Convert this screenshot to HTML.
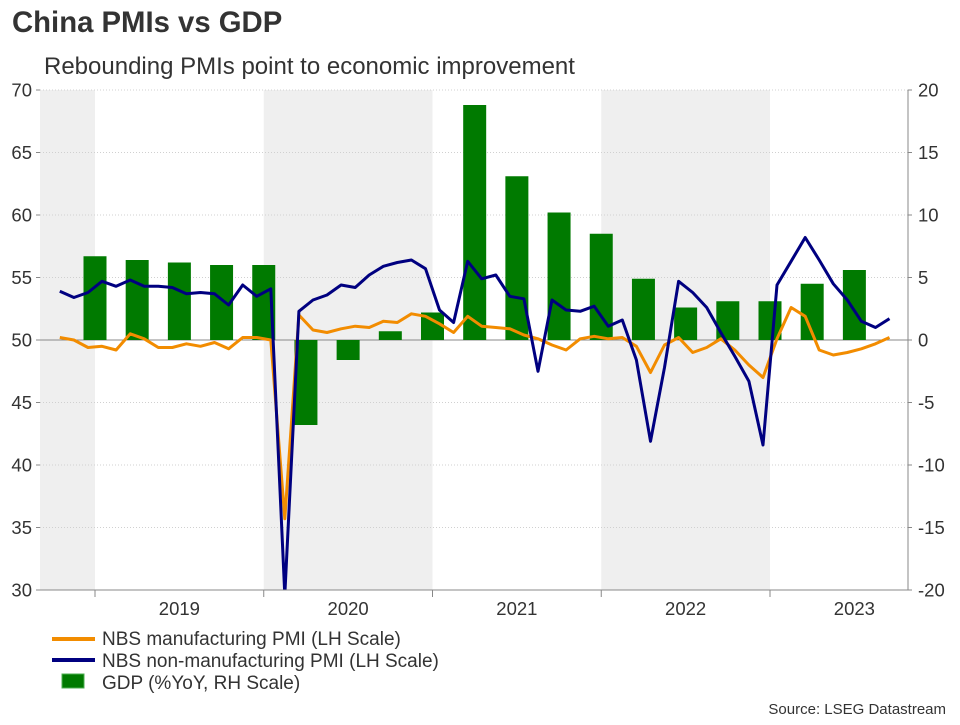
<!DOCTYPE html>
<html><head><meta charset="utf-8"><style>
body{margin:0;background:#fff;font-family:"Liberation Sans",sans-serif;}
svg text{font-family:"Liberation Sans",sans-serif;}
</style></head><body>
<svg width="960" height="720" viewBox="0 0 960 720">
<text x="12" y="32" font-size="29.3" font-weight="bold" fill="#333">China PMIs vs GDP</text>
<text x="44" y="74" font-size="24" fill="#333">Rebounding PMIs point to economic improvement</text>
<g id="bands"></g><g id="grid"></g><g id="bars"></g><g id="lines"></g><g id="axes"></g>
<g>
<line x1="52" y1="639" x2="95" y2="639" stroke="#f28c00" stroke-width="4"/>
<text x="102" y="645" font-size="19" fill="#333">NBS manufacturing PMI (LH Scale)</text>
<line x1="52" y1="660" x2="95" y2="660" stroke="#000080" stroke-width="4"/>
<text x="102" y="667" font-size="19" fill="#333">NBS non-manufacturing PMI (LH Scale)</text>
<rect x="62" y="674" width="22" height="14" fill="#007a00" stroke="#4caf50"/>
<text x="102" y="689" font-size="19" fill="#333">GDP (%YoY, RH Scale)</text>
</g>
<text x="946" y="714" font-size="15" fill="#333" text-anchor="end">Source: LSEG Datastream</text>
</svg>
<script>
const years=["2019","2020","2021","2022","2023"];
const leftTicks=[30,35,40,45,50,55,60,65,70];
const rightTicks=[-20,-15,-10,-5,0,5,10,15,20];
// monthly Oct 2018 – Sep 2023
const mfg=[50.2,50.0,49.4,49.5,49.2,50.5,50.1,49.4,49.4,49.7,49.5,49.8,49.3,50.2,50.2,50.0,35.7,52.0,50.8,50.6,50.9,51.1,51.0,51.5,51.4,52.1,51.9,51.3,50.6,51.9,51.1,51.0,50.9,50.4,50.1,49.6,49.2,50.1,50.3,50.1,50.2,49.5,47.4,49.6,50.2,49.0,49.4,50.1,49.2,48.0,47.0,50.1,52.6,51.9,49.2,48.8,49.0,49.3,49.7,50.2];
const nonMfg=[53.9,53.4,53.8,54.7,54.3,54.8,54.3,54.3,54.2,53.7,53.8,53.7,52.8,54.4,53.5,54.1,29.6,52.3,53.2,53.6,54.4,54.2,55.2,55.9,56.2,56.4,55.7,52.4,51.4,56.3,54.9,55.2,53.5,53.3,47.5,53.2,52.4,52.3,52.7,51.1,51.6,48.4,41.9,47.8,54.7,53.8,52.6,50.6,48.7,46.7,41.6,54.4,56.3,58.2,56.4,54.5,53.2,51.5,51.0,51.7];
// quarterly, as plotted
const gdp=[6.7,6.4,6.2,6.0,6.0,-6.8,-1.6,0.7,2.2,18.8,13.1,10.2,8.5,4.9,2.6,3.1,3.1,4.5,5.6];
const NS='http://www.w3.org/2000/svg';
const X0=40,X1=908,Y0=90,Y1=590,MW=(770-95)/48;
const xm=m=>95+m*MW;
const yl=v=>Y1-(v-30)/40*(Y1-Y0);
const yr=v=>Y1-(v+20)/40*(Y1-Y0);
function mk(p,t,a){const e=document.createElementNS(NS,t);for(const k in a)e.setAttribute(k,a[k]);p.appendChild(e);return e;}
const bands=document.getElementById('bands');
[[X0,xm(0)],[xm(12),xm(24)],[xm(36),xm(48)]].forEach((b,i)=>{
 const r=mk(bands,'rect',{x:b[0],y:Y0,width:b[1]-b[0],height:Y1-Y0,fill:'#efefef'});
 
 
});
const grid=document.getElementById('grid');
leftTicks.forEach(v=>{ if(v===30)return;
 const l=mk(grid,'line',{x1:X0,x2:X1,y1:yl(v),y2:yl(v),stroke:v===50?'#888':'#d0d0d0','stroke-width':1,'stroke-dasharray':v===50?'':'1,2'});
 
 
});
const bars=document.getElementById('bars');
gdp.forEach((v,i)=>{
 const cx=xm(i*3);const y=yr(Math.max(v,0)),h=Math.abs(yr(v)-yr(0));
 const r=mk(bars,'rect',{x:cx-11.5,y:y,width:23,height:h,fill:'#007a00'});
 
 
});
mk(grid,'line',{x1:X0,x2:X1,y1:yr(0),y2:yr(0),stroke:'#888'});
const lines=document.getElementById('lines');
mk(lines,'clipPath',{id:'cp'}).appendChild(document.createElementNS(NS,'rect'));
const cr=lines.querySelector('clipPath rect');cr.setAttribute('x',X0);cr.setAttribute('y',Y0);cr.setAttribute('width',X1-X0);cr.setAttribute('height',Y1-Y0);
function path(arr,col,name){
 const d=arr.map((v,i)=>(i?'L':'M')+xm(i-3+0.5).toFixed(1)+','+yl(v).toFixed(1)).join('');
 const p=mk(lines,'path',{d:d,fill:'none',stroke:col,'stroke-width':3,'stroke-linejoin':'round','clip-path':'url(#cp)'});
 
 
}
path(mfg,'#f28c00','manufacturing-pmi-line');
path(nonMfg,'#000080','nonmanufacturing-pmi-line');
const ax=document.getElementById('axes');
mk(ax,'line',{x1:X0,x2:X1,y1:Y1,y2:Y1,stroke:'#888'});
mk(ax,'line',{x1:X1,x2:X1,y1:Y0,y2:Y1,stroke:'#888'});
leftTicks.forEach(v=>{
 mk(ax,'line',{x1:X0-4,x2:X0,y1:yl(v),y2:yl(v),stroke:'#888'});
 const t=mk(ax,'text',{x:X0-8,y:yl(v)+6.5,'font-size':18.5,fill:'#333','text-anchor':'end'});t.textContent=v;
 
 
});
rightTicks.forEach(v=>{
 mk(ax,'line',{x1:X1,x2:X1+4,y1:yr(v),y2:yr(v),stroke:'#888'});
 const t=mk(ax,'text',{x:X1+10,y:yr(v)+6.5,'font-size':18.5,fill:'#333'});t.textContent=v;
 
 
});
years.forEach((y,i)=>{
 mk(ax,'line',{x1:xm(i*12),x2:xm(i*12),y1:Y1,y2:Y1+7,stroke:'#888'});
 const t=mk(ax,'text',{x:xm(i*12+6),y:Y1+25,'font-size':18.5,fill:'#333','text-anchor':'middle'});t.textContent=y;
 
 
});
</script>
</body></html>
